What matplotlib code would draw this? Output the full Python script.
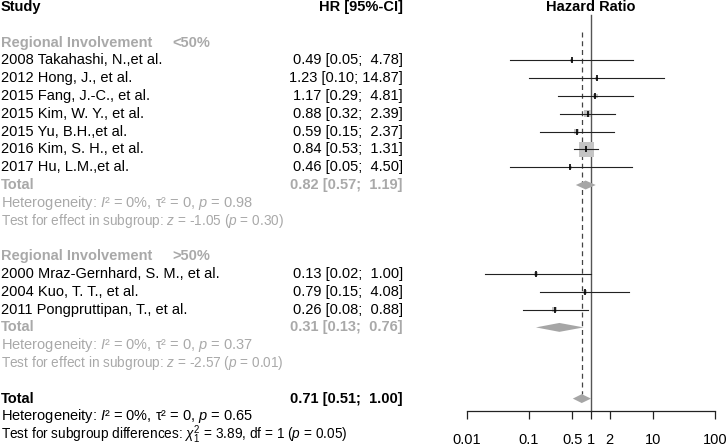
import numpy as np
import matplotlib.pyplot as plt
from matplotlib.patches import Polygon
from matplotlib import transforms

plt.rcParams['font.family'] = ['Liberation Sans', 'DejaVu Sans']
plt.rcParams['mathtext.fontset'] = 'custom'
plt.rcParams['mathtext.rm'] = 'Liberation Sans'
plt.rcParams['mathtext.it'] = 'Liberation Sans:italic'
plt.rcParams['mathtext.bf'] = 'Liberation Sans:bold'

# ---- data ----
studies1 = ["2008 Takahashi, N.,et al.", "2012 Hong, J., et al.", "2015 Fang, J.-C., et al.",
            "2015 Kim, W. Y., et al.", "2015 Yu, B.H.,et al.", "2016 Kim, S. H., et al.",
            "2017 Hu, L.M.,et al."]
hr1 = [0.49, 1.23, 1.17, 0.88, 0.59, 0.84, 0.46]
lo1 = [0.05, 0.10, 0.29, 0.32, 0.15, 0.53, 0.05]
hi1 = [4.78, 14.87, 4.81, 2.39, 2.37, 1.31, 4.50]
w1 = [2.2, 1.8, 5.8, 11.3, 6.0, 55.6, 2.3]
sub1 = (0.82, 0.57, 1.19)

studies2 = ["2000 Mraz-Gernhard, S. M., et al.", "2004 Kuo, T. T., et al.",
            "2011 Pongpruttipan, T., et al."]
hr2 = [0.13, 0.79, 0.26]
lo2 = [0.02, 0.15, 0.08]
hi2 = [1.00, 4.08, 0.88]
w2 = [3.0, 4.2, 7.9]
sub2 = (0.31, 0.13, 0.76)

overall = (0.71, 0.51, 1.00)

het1 = "Heterogeneity: $I$\u00b2 = 0%, \u03c4\u00b2 = 0, $p$ = 0.98"
test1 = "Test for effect in subgroup: $z$ = -1.05 ($p$ = 0.30)"
het2 = "Heterogeneity: $I$\u00b2 = 0%, \u03c4\u00b2 = 0, $p$ = 0.37"
test2 = "Test for effect in subgroup: $z$ = -2.57 ($p$ = 0.01)"
het_all = "Heterogeneity: $I$\u00b2 = 0%, \u03c4\u00b2 = 0, $p$ = 0.65"
test_all = "Test for subgroup differences: $\\chi^2_1$ = 3.89, df = 1 ($p$ = 0.05)"

xticks = [0.01, 0.1, 0.5, 1, 2, 10, 100]
xticklabels = ["0.01", "0.1", "0.5", "1", "2", "10", "100"]

GRAY = "#a9a9a9"
FS = 10.5
FS_TEST = 9.85


def fmt(h, l, u):
    return "%.2f [%.2f; %5.2f]" % (h, l, u)


fig = plt.figure(figsize=(7.27, 4.47), dpi=100)
W, H = 727, 447
row_h = 17.8
top0 = 7
ax = fig.add_axes([466.7 / W, 0, (715.3 - 466.7) / W, 1])
ax.set_xscale('log')
ax.set_xlim(0.01, 100)
ax.set_ylim((H - top0) / row_h, -top0 / row_h)
ax.patch.set_visible(False)

tr = transforms.blended_transform_factory(fig.transFigure, ax.transData)
xL = 1 / W
xHR = 403 / W


def txt(x, r, s, ha='left', color='black', weight='normal', fs=FS):
    ax.text(x, r, s, transform=tr, ha=ha, va='center', fontsize=fs,
            color=color, fontweight=weight, clip_on=False)


# headers
txt(xL, 0, "Study", weight='bold')
txt(xHR, 0, "HR [95%-CI]", ha='right', weight='bold')
ax.text(1, 0, "Hazard Ratio", ha='center', va='center', fontsize=FS, fontweight='bold')


def draw_study(r, name, h, l, u, w):
    txt(xL, r, name)
    txt(xHR, r, fmt(h, l, u), ha='right')
    ax.plot([l, u], [r, r], color='#222222', lw=0.8, zorder=3)
    side = 15 * np.sqrt(w / 55.6)
    ax.scatter([h], [r], marker='s', s=(side * 0.72) ** 2, color='#c4c4c4',
               edgecolors='none', zorder=2)
    ax.plot([h], [r], marker='|', ms=4, mew=1.2, color='black', zorder=4)


def diamond(r, h, l, u, color):
    d = 0.25
    ax.add_patch(Polygon([(l, r), (h, r - d), (u, r), (h, r + d)], closed=True,
                         facecolor=color, edgecolor='none', zorder=3))


# subgroup 1
txt(xL, 2, "Regional Involvement", color=GRAY, weight='bold')
txt(172 / W, 2, "<50%", color=GRAY, weight='bold')
for i in range(len(studies1)):
    draw_study(3 + i, studies1[i], hr1[i], lo1[i], hi1[i], w1[i])
r = 3 + len(studies1)
txt(xL, r, "Total", color=GRAY, weight='bold')
txt(xHR, r, fmt(*sub1), ha='right', color=GRAY, weight='bold')
diamond(r, *sub1, color='#a6a6a6')
txt(xL, r + 1, het1, color=GRAY)
txt(xL, r + 2, test1, color=GRAY, fs=FS_TEST)

# subgroup 2
r0 = r + 4
txt(xL, r0, "Regional Involvement", color=GRAY, weight='bold')
txt(172 / W, r0, ">50%", color=GRAY, weight='bold')
for i in range(len(studies2)):
    draw_study(r0 + 1 + i, studies2[i], hr2[i], lo2[i], hi2[i], w2[i])
r = r0 + 1 + len(studies2)
txt(xL, r, "Total", color=GRAY, weight='bold')
txt(xHR, r, fmt(*sub2), ha='right', color=GRAY, weight='bold')
diamond(r, *sub2, color='#a6a6a6')
txt(xL, r + 1, het2, color=GRAY)
txt(xL, r + 2, test2, color=GRAY, fs=FS_TEST)

# overall
r = r + 4
txt(xL, r, "Total", weight='bold')
txt(xHR, r, fmt(*overall), ha='right', weight='bold')
diamond(r, *overall, color='#a6a6a6')
txt(xL, r + 1, het_all)
txt(xL, r + 2.05, test_all, fs=FS_TEST)

# reference lines
axis_r = (411 - top0) / row_h
ax.plot([1, 1], [(15 - top0) / row_h, axis_r], color='#555555', lw=1.0, zorder=1)
ax.plot([overall[0]] * 2, [(32 - top0) / row_h, r - 0.25], color='#444444',
        lw=0.9, ls=(0, (4, 3)), zorder=1)

# x axis
for s in ['top', 'left', 'right']:
    ax.spines[s].set_visible(False)
ax.spines['bottom'].set_position(('data', axis_r))
ax.spines['bottom'].set_color('#222222')
ax.spines['bottom'].set_linewidth(0.9)
ax.set_yticks([])
ax.set_xticks(xticks)
ax.set_xticklabels(xticklabels, fontsize=FS)
ax.xaxis.set_minor_locator(plt.NullLocator())
ax.tick_params(axis='x', direction='out', length=5.8, width=0.9, pad=10,
               color='#222222')

fig.savefig("out.png", dpi=100)
